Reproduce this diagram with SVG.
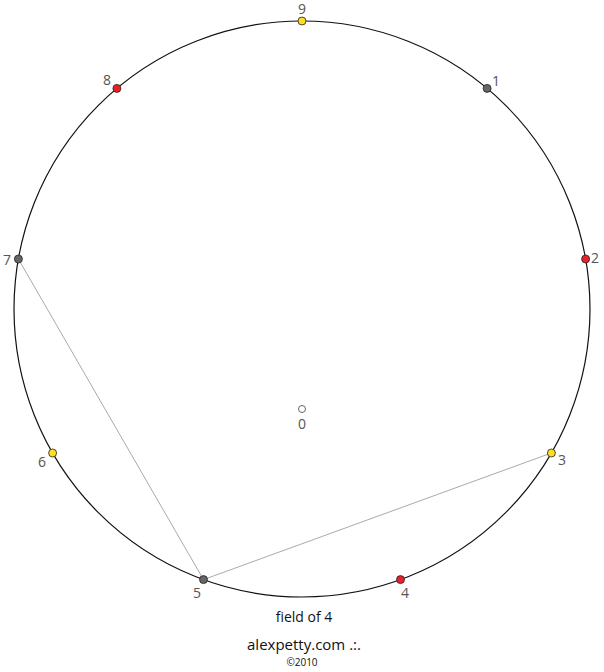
<svg xmlns="http://www.w3.org/2000/svg" width="604" height="672" viewBox="0 0 604 672">
<style>
.lbl{font-family:"Open Sans","Liberation Sans",sans-serif;font-size:14px;fill:#555}
.dot{stroke:#222;stroke-width:0.8}
.gray{fill:#666}.red{fill:#e8202a}.yel{fill:#ffdd22}
.t{font-family:"Open Sans","Liberation Sans",sans-serif;fill:#111;text-anchor:middle}
</style>
<rect width="604" height="672" fill="#fff"/>
<circle cx="302" cy="309" r="288" fill="none" stroke="#111" stroke-width="1.2"/>
<g id="connectors" stroke="#aaa" stroke-width="1" fill="none">
<line x1="18.4" y1="259" x2="203.5" y2="579.6"/>
<line x1="203.5" y1="579.6" x2="551.4" y2="453"/>
</g>
<g id="n0"><circle cx="302" cy="409" r="3.5" fill="#fff" stroke="#555" stroke-width="0.9"/><text class="lbl" x="302" y="429" text-anchor="middle">0</text></g>
<g id="n1"><circle class="dot gray" cx="487.1" cy="88.4" r="4"/><text class="lbl" x="492" y="86">1</text></g>
<g id="n2"><circle class="dot red" cx="585.6" cy="259" r="4"/><text class="lbl" x="591" y="263">2</text></g>
<g id="n3"><circle class="dot yel" cx="551.4" cy="453" r="4"/><text class="lbl" x="558" y="465">3</text></g>
<g id="n4"><circle class="dot red" cx="400.5" cy="579.6" r="4"/><text class="lbl" x="405" y="598" text-anchor="middle">4</text></g>
<g id="n5"><circle class="dot gray" cx="203.5" cy="579.6" r="4"/><text class="lbl" x="197" y="598" text-anchor="middle">5</text></g>
<g id="n6"><circle class="dot yel" cx="52.6" cy="453" r="4"/><text class="lbl" x="42" y="467" text-anchor="middle">6</text></g>
<g id="n7"><circle class="dot gray" cx="18.4" cy="259" r="4"/><text class="lbl" x="7" y="265" text-anchor="middle">7</text></g>
<g id="n8"><circle class="dot red" cx="116.9" cy="88.4" r="4"/><text class="lbl" x="107" y="85" text-anchor="middle">8</text></g>
<g id="n9"><circle class="dot yel" cx="302" cy="21" r="4"/><text class="lbl" x="302" y="14" text-anchor="middle">9</text></g>
<text class="t" x="304" y="622" font-size="14">field of 4</text>
<text class="t" x="304" y="650" font-size="15">alexpetty.com .:.</text>
<text class="t" x="302" y="666" font-size="10">©2010</text>
</svg>
